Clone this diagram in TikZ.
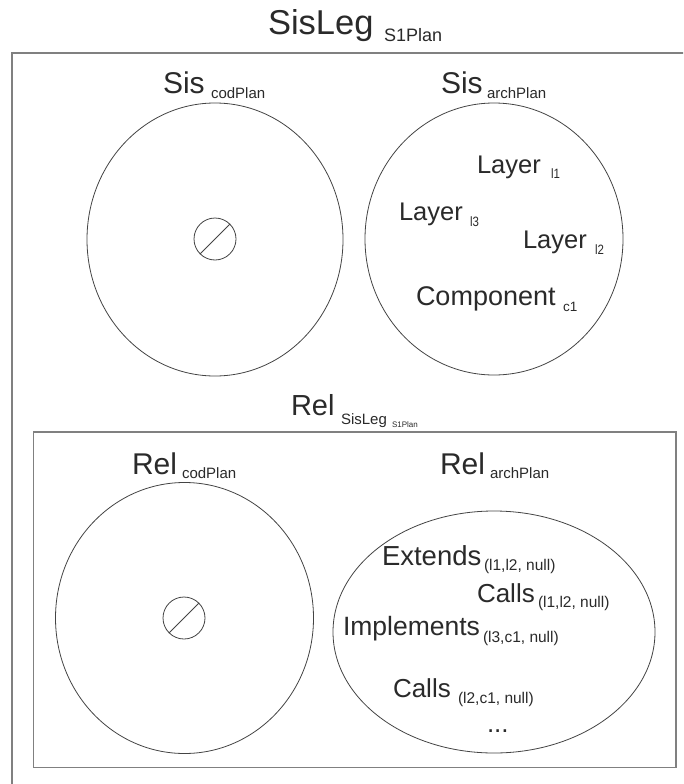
\documentclass[tikz,border=0pt]{standalone}
\usepackage{fontspec}
\usepackage{graphicx}
\setmainfont{Liberation Sans}
\usetikzlibrary{shapes.geometric}

% text of a given size, optionally squeezed or stretched horizontally
\newcommand\txt[3][1]{\scalebox{#1}[1]{\fontsize{#2}{#2}\selectfont #3}}

\definecolor{ink}{HTML}{2A2A2A}
\definecolor{rim}{HTML}{444444}
\definecolor{frame}{HTML}{808080}

\begin{document}
\begin{tikzpicture}[x=1pt,y=-1pt,
  lbl/.style={inner sep=0pt, outer sep=0pt, anchor=base west, text=ink},
  setshape/.style={ellipse, draw=rim, line width=0.8pt, inner sep=0pt},
  emptyset/.style={circle, draw=rim, line width=0.8pt, minimum size=42pt, inner sep=0pt},
  box/.style={draw=frame, line width=1.8pt}]
\clip (0,0) rectangle (683,784);
\fill[white] (0,0) rectangle (683,784);

% frames
\draw[box] (12,52.7) rectangle (720,820);
\draw[box, line width=1.5pt] (33.7,432) rectangle (676,767.7);

% title
\node[lbl] (title) at (268,35) {\txt{34.5}{SisLeg}};
\node[lbl] (titlesub) at (384,41.7) {\txt{18}{S1Plan}};

% system sets
\node[setshape, minimum width=256pt, minimum height=273pt] (siscod) at (215,239.5) {};
\node[setshape, minimum width=258pt, minimum height=272pt] (sisarch) at (494,239) {};
\node[emptyset] (sisempty) at (215,239) {};
\draw[rim, line width=0.8pt] (sisempty.45) -- (sisempty.225);

\node[lbl] (siscodl) at (163,93) {\txt{30}{Sis}};
\node[lbl] (siscods) at (211,99) {\txt{15}{codPlan}};
\node[lbl] (sisarchl) at (441,93) {\txt{30}{Sis}};
\node[lbl] (sisarchs) at (487,99) {\txt{15}{archPlan}};

\node[lbl] (l1) at (477,173) {\txt{25.5}{Layer}};
\node[lbl] (l1s) at (551,178) {\txt[0.85]{13.5}{l1}};
\node[lbl] (l3) at (399,220) {\txt{25.5}{Layer}};
\node[lbl] (l3s) at (470,226) {\txt[0.85]{13.5}{l3}};
\node[lbl] (l2) at (523,248) {\txt{25.5}{Layer}};
\node[lbl] (l2s) at (595,254) {\txt[0.85]{13.5}{l2}};
\node[lbl] (c1) at (416,305) {\txt{27}{Component}};
\node[lbl] (c1s) at (563,311) {\txt{13.5}{c1}};

% relation sets
\node[lbl] (rel) at (291,415) {\txt{29}{Rel}};
\node[lbl] (rels) at (341,424) {\txt{15}{SisLeg}};
\node[lbl] (relss) at (392,427) {\txt{8}{S1Plan}};

\node[setshape, minimum width=258pt, minimum height=271pt] (relcod) at (184.5,618) {};
\node[setshape, minimum width=322pt, minimum height=242pt] (relarch) at (494,632) {};
\node[emptyset] (relempty) at (184,618) {};
\draw[rim, line width=0.8pt] (relempty.45) -- (relempty.225);

\node[lbl] (relcodl) at (132,474) {\txt{30}{Rel}};
\node[lbl] (relcods) at (182,478) {\txt{15}{codPlan}};
\node[lbl] (relarchl) at (440,474) {\txt{30}{Rel}};
\node[lbl] (relarchs) at (490,478) {\txt{15}{archPlan}};

\node[lbl] (ext) at (382,565) {\txt{27.5}{Extends}};
\node[lbl] (exts) at (484,570) {\txt{15.5}{(l1,l2, null)}};
\node[lbl] (calla) at (477,602) {\txt{26}{Calls}};
\node[lbl] (callas) at (538,607) {\txt{15.5}{(l1,l2, null)}};
\node[lbl] (impl) at (343,635) {\txt{26.5}{Implements}};
\node[lbl] (impls) at (483,642) {\txt{15.5}{(l3,c1, null)}};
\node[lbl] (callb) at (393,697) {\txt{26}{Calls}};
\node[lbl] (callbs) at (458,703) {\txt{15.5}{(l2,c1, null)}};
\node[lbl] (more) at (487,732) {\txt{26}{...}};
\end{tikzpicture}
\end{document}
